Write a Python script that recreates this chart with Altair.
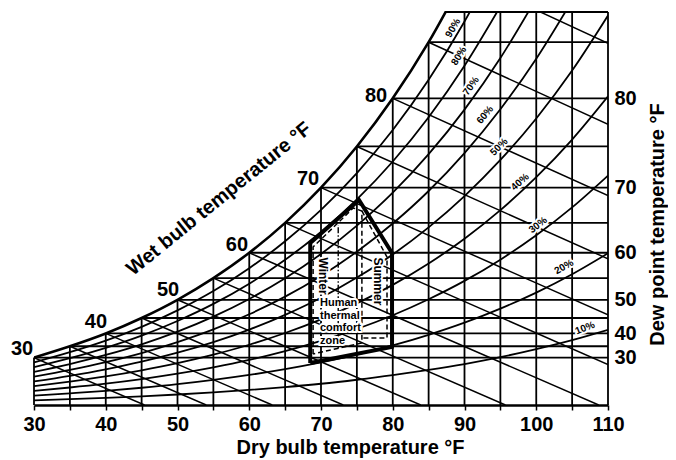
import altair as alt
import pandas as pd

# ---------------- data ----------------
# dry-bulb temperatures, °F
dry_bulb = [30, 35, 40, 45, 50, 55, 60, 65, 70, 75, 80, 85, 90, 95, 100, 105, 110]

# humidity ratio (lb water / 1000 lb dry air) on the saturation curve
sat_t = [30, 35, 40, 45, 50, 55, 60, 65, 70, 75, 80, 85, 90]
sat_w = [3.44, 4.26, 5.19, 6.31, 7.63, 9.20, 11.04, 13.21, 15.76, 18.75, 22.24, 26.31, 31.05]

# relative-humidity curves, humidity ratio at each dry-bulb temperature
rh_curves = {
    10: [0.34, 0.42, 0.52, 0.63, 0.76, 0.91, 1.09, 1.30, 1.54, 1.83, 2.16, 2.54, 2.97, 3.47, 4.05, 4.70, 5.45],
    20: [0.68, 0.85, 1.03, 1.25, 1.51, 1.82, 2.18, 2.60, 3.09, 3.66, 4.32, 5.09, 5.97, 6.99, 8.15, 9.48, 11.00],
    30: [1.03, 1.27, 1.55, 1.88, 2.27, 2.73, 3.27, 3.91, 4.65, 5.51, 6.51, 7.67, 9.00, 10.54, 12.31, 14.33, 16.64],
    40: [1.37, 1.70, 2.07, 2.51, 3.03, 3.65, 4.37, 5.22, 6.21, 7.37, 8.71, 10.26, 12.06, 14.13, 16.52, 19.25, 22.38],
    50: [1.71, 2.12, 2.59, 3.14, 3.79, 4.56, 5.47, 6.54, 7.78, 9.24, 10.92, 12.88, 15.15, 17.77, 20.78, 24.25, 28.24],
    60: [2.06, 2.55, 3.11, 3.77, 4.56, 5.48, 6.58, 7.86, 9.36, 11.12, 13.16, 15.52, 18.27, 21.45, 25.11, 29.33],
    70: [2.40, 2.97, 3.63, 4.40, 5.32, 6.41, 7.69, 9.19, 10.95, 13.01, 15.40, 18.19, 21.42, 25.16, 29.49],
    80: [2.75, 3.40, 4.15, 5.03, 6.09, 7.33, 8.80, 10.53, 12.55, 14.91, 17.66, 20.87, 24.60, 28.91],
    90: [3.09, 3.83, 4.67, 5.67, 6.86, 8.26, 9.92, 11.87, 14.15, 16.82, 19.94, 23.58, 27.81, 32.73],
}

# vertical dry-bulb lines: top of each line
vert_top = [3.44, 4.26, 5.19, 6.31, 7.63, 9.20, 11.04, 13.21, 15.76, 18.75, 22.24, 26.31,
            28.5, 28.5, 28.5, 28.5, 28.5]

# horizontal dew-point lines (start at the saturation curve, run to 110 °F)
dew_start = [30, 35, 40, 45, 50, 55, 60, 65, 70, 75, 80, 85, 87.2]
dew_w = [3.44, 4.26, 5.19, 6.31, 7.63, 9.20, 11.04, 13.21, 15.76, 18.75, 22.24, 26.31, 28.5]
dew_end = 110

# wet-bulb lines
wb_t = [30, 35, 40, 45, 50, 55, 60, 65, 70, 75, 80, 85, 90]
wb_w = [3.44, 4.26, 5.19, 6.31, 7.63, 9.20, 11.04, 13.21, 15.76, 18.75, 22.24, 26.31, 31.05]
wb_end_t = [45.4, 54.0, 63.2, 73.1, 83.9, 95.7, 108.7, 110, 110, 110, 110, 110, 110]
wb_end_w = [0, 0, 0, 0, 0, 0, 0, 2.94, 6.54, 10.60, 15.18, 20.36, 26.23]

# right axis: dew point labels
dew_labels = ["30", "40", "50", "60", "70", "80"]
dew_label_w = [3.44, 5.19, 7.63, 11.04, 15.76, 22.24]

# wet-bulb labels along the saturation curve
wb_labels = ["30", "40", "50", "60", "70", "80"]
wb_label_t = [28.33, 38.64, 48.68, 58.29, 68.19, 77.67]
wb_label_w = [4.06, 6.02, 8.34, 11.60, 16.39, 22.41]

# relative humidity labels
rh_labels = ["90%", "80%", "70%", "60%", "50%", "40%", "30%", "20%", "10%"]
rh_label_t = [88.40, 89.23, 90.91, 92.86, 94.81, 97.74, 100.24, 103.86, 106.79]
rh_label_w = [27.34, 25.31, 23.13, 21.03, 18.71, 16.17, 13.05, 10.01, 5.58]
rh_label_angle = [300, 302, 305, 310, 315, 318, 322, 330, 338]

# human thermal comfort zone outline
zone_t = [68.5, 68.5, 75.3, 79.9, 79.9, 68.5]
zone_w = [3.05, 11.75, 14.87, 11.02, 4.21, 3.05]
winter_t = [68.9, 68.9, 74.5, 75.7, 75.7, 68.9]
winter_w = [3.70, 11.46, 14.29, 14.07, 4.50, 3.70]
summer_t = [75.7, 79.2, 79.2, 75.7]
summer_w = [14.07, 10.73, 4.86, 4.86]
summer_left_t = [72.4, 72.4]
summer_left_w = [4.11, 13.05]

# annotations
notes = [
    {"text": "Winter", "T": 70.21, "W": 9.35, "a": 90},
    {"text": "Summer", "T": 78.01, "W": 8.96, "a": 90},
]
zone_text = "Human\nthermal\ncomfort\nzone"
zone_text_t, zone_text_w = 69.86, 7.40
wet_title = "Wet bulb temperature °F"
wet_title_t, wet_title_w, wet_title_angle = 55.78, 14.94, 321

# ---------------- chart ----------------
FONT = "Liberation Sans"
X = alt.Scale(domain=[30, 110], nice=False, zero=False)
Y = alt.Scale(domain=[0, 28.5], nice=False, zero=False)

parts = [f"datum.value < {w + 0.05} ? '{lab}'" for w, lab in zip(dew_label_w, dew_labels)]
y_label_expr = " : ".join(parts) + " : ''"

x_axis = alt.Axis(
    values=dry_bulb, labelExpr="datum.value % 10 == 0 ? datum.label : ''",
    title="Dry bulb temperature °F", titleX=316, titleY=48,
    titleAlign="center", titleBaseline="alphabetic", titleAnchor="start",
    grid=False, domainColor="black", domainWidth=2.6,
    tickColor="black", tickSize=5, tickWidth=1.5, labelPadding=4,
    labelOverlap=False, labelFlush=False,
)
y_axis = alt.Axis(
    orient="right", values=dew_label_w, labelExpr=y_label_expr,
    title="Dew point temperature °F", titleAngle=270, titleX=49, titleY=212,
    titleAlign="center", titleBaseline="middle", titleAnchor="start",
    grid=False, domain=False, ticks=False, labelPadding=6, labelOverlap=False,
    labelFlush=False,
)


def xe(field="T"):
    return alt.X(f"{field}:Q", scale=X, axis=x_axis)


def ye(field="W"):
    return alt.Y(f"{field}:Q", scale=Y, axis=y_axis)


df_vert = pd.DataFrame({"T": dry_bulb, "W0": [0] * len(dry_bulb), "W": vert_top})
verts = alt.Chart(df_vert).mark_rule(color="black", strokeWidth=1.8).encode(
    x=xe(), y=ye("W0"), y2="W:Q",
)

df_dew = pd.DataFrame({"T": dew_start, "T2": [dew_end] * len(dew_start), "W": dew_w})
dews = alt.Chart(df_dew).mark_rule(color="black", strokeWidth=1.8).encode(
    x=xe(), x2="T2:Q", y=ye(),
)

df_wb = pd.DataFrame({"T": wb_t, "W": wb_w, "T2": wb_end_t, "W2": wb_end_w})
wbs = alt.Chart(df_wb).mark_rule(color="black", strokeWidth=1.5, clip=True).encode(
    x=xe(), x2="T2:Q", y=ye(), y2="W2:Q",
)

rows = []
for rh, ws in rh_curves.items():
    for t, w in zip(dry_bulb, ws):
        rows.append({"rh": rh, "T": t, "W": w})
df_rh = pd.DataFrame(rows)
rhs = alt.Chart(df_rh).mark_line(color="black", strokeWidth=1.8, interpolate="monotone",
                                 clip=True).encode(x=xe(), y=ye(), detail="rh:N")

df_sat = pd.DataFrame({"T": sat_t, "W": sat_w})
sat = alt.Chart(df_sat).mark_line(color="black", strokeWidth=2.6, interpolate="monotone",
                                  clip=True).encode(x=xe(), y=ye())


def path(ts, ws, **kw):
    df = pd.DataFrame({"T": ts, "W": ws, "i": list(range(len(ts)))})
    return alt.Chart(df).mark_line(color="black", **kw).encode(
        x=xe(), y=ye(), order="i:Q",
    )


winter = path(winter_t, winter_w, strokeWidth=1.5, strokeDash=[5, 3])
summer = path(summer_t, summer_w, strokeWidth=1.5, strokeDash=[5, 3])
summer_left = path(summer_left_t, summer_left_w, strokeWidth=1.4, strokeDash=[6, 2, 1.5, 2])
zone = path(zone_t, zone_w, strokeWidth=4, strokeJoin="miter")

df_rhl = pd.DataFrame({"text": rh_labels, "T": rh_label_t, "W": rh_label_w, "a": rh_label_angle})
rh_enc = dict(x=xe(), y=ye(), text="text:N", angle=alt.Angle("a:Q", scale=None))
rh_halo = alt.Chart(df_rhl).mark_text(font=FONT, fontWeight="bold", fontSize=10, color="white",
                                      stroke="white", strokeWidth=4, strokeJoin="round").encode(**rh_enc)
rh_text = alt.Chart(df_rhl).mark_text(font=FONT, fontWeight="bold", fontSize=10,
                                      color="black").encode(**rh_enc)

df_wbl = pd.DataFrame({"text": wb_labels, "T": wb_label_t, "W": wb_label_w})
wb_text = alt.Chart(df_wbl).mark_text(font=FONT, fontWeight="bold", fontSize=20,
                                      color="black").encode(x=xe(), y=ye(), text="text:N")

df_notes = pd.DataFrame(notes)
note_enc = dict(x=xe(), y=ye(), text="text:N", angle=alt.Angle("a:Q", scale=None))
note_halo = alt.Chart(df_notes).mark_text(font=FONT, fontWeight="bold", fontSize=12, color="white",
                                          stroke="white", strokeWidth=4).encode(**note_enc)
note_text = alt.Chart(df_notes).mark_text(font=FONT, fontWeight="bold", fontSize=12,
                                          color="black").encode(**note_enc)

df_zt = pd.DataFrame({"text": [zone_text], "T": [zone_text_t], "W": [zone_text_w]})
zt_enc = dict(x=xe(), y=ye(), text="text:N")
zt_halo = alt.Chart(df_zt).mark_text(font=FONT, fontWeight="bold", fontSize=11, align="left",
                                     baseline="middle", lineBreak="\n", lineHeight=12.7,
                                     color="white", stroke="white", strokeWidth=4).encode(**zt_enc)
zt_text = alt.Chart(df_zt).mark_text(font=FONT, fontWeight="bold", fontSize=11, align="left",
                                     baseline="middle", lineBreak="\n", lineHeight=12.7,
                                     color="black").encode(**zt_enc)

df_wt = pd.DataFrame({"text": [wet_title], "T": [wet_title_t], "W": [wet_title_w],
                      "a": [wet_title_angle]})
wet_text = alt.Chart(df_wt).mark_text(font=FONT, fontWeight="bold", fontSize=20,
                                      color="black").encode(
    x=xe(), y=ye(), text="text:N", angle=alt.Angle("a:Q", scale=None),
)

chart = alt.layer(
    verts, dews, wbs, rhs, sat,
    winter, summer, summer_left, zone,
    rh_halo, rh_text, wb_text, note_halo, note_text, zt_halo, zt_text, wet_text,
).properties(
    width=574, height=393,
    autosize=alt.AutoSizeParams(type="none"),
    padding={"left": 26, "top": 4, "right": 60, "bottom": 55},
).configure_view(stroke=None).configure_axis(
    labelFont=FONT, titleFont=FONT, labelFontSize=20, titleFontSize=20,
    labelFontWeight="bold", titleFontWeight="bold", labelColor="black", titleColor="black",
)

chart.save("out.html", embed_options={"renderer": "svg", "actions": False})
